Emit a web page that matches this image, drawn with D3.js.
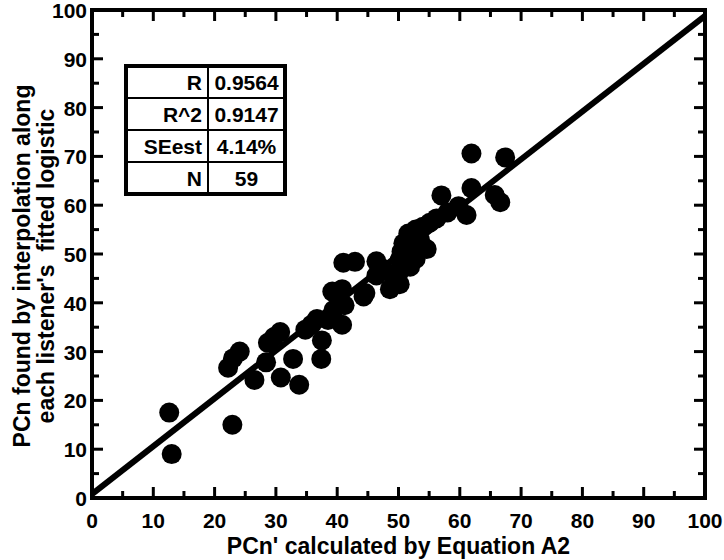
<!DOCTYPE html>
<html>
<head>
<meta charset="UTF-8">
<style>
  body{margin:0;background:#fff}
  svg{display:block}
  text{font-family:'Liberation Sans',Arial,sans-serif;font-weight:bold;fill:#000}
  .tick-label{font-family:'Liberation Sans Narrow','Arial Narrow','Liberation Sans',sans-serif;font-size:21px}
  .axis-title{font-size:23px}
  .tbl text{font-size:21px}
</style>
</head>
<body>
<div id="chart"></div>
<script src="https://d3js.org/d3.v7.min.js"></script>
<script>
// PCn' (Equation A2) vs PCn (interpolated), one pair per listener
const pcnCalc  = [12.6,13.0,22.9,22.2,23.0,24.1,26.5,28.4,28.7,30.7,30.8,32.8,33.8,34.8,36.7,37.5,37.4,40.8,
                  39.4,41.2,39.2,44.3,41.0,42.9,46.4,46.4,48.6,50.2,50.2,50.2,51.9,50.8,51.6,53.5,54.6,54.0,
                  56.2,57.0,59.8,61.1,61.9,61.9,67.4,65.7,66.6,
                  52.2,52.8,55.1,58.0,50.5,52.8,49.3,38.5,29.7,35.8,53.0,40.8,47.4,44.6];
const pcnFound = [17.5, 9.0,15.0,26.7,28.6,30.0,24.2,27.8,31.8,34.0,24.7,28.5,23.2,34.5,36.7,32.3,28.5,35.5,
                  38.5,39.5,42.3,41.3,48.2,48.4,48.5,45.6,42.8,43.8,46.5,48.8,47.4,52.2,54.2,52.9,51.0,55.6,
                  57.3,62.0,59.8,58.0,63.5,70.6,69.8,62.1,60.6,
                  52.5,55.0,56.4,58.5,50.5,49.0,44.5,36.5,33.0,35.5,51.5,42.8,47.0,42.0];

// least-squares line end points
const fitX = [0, 100];
const fitY = [0.8, 98.8];

// stats box
const statNames  = ["R", "R^2", "SEest", "N"];
const statValues = ["0.9564", "0.9147", "4.14%", "59"];

const xTicks = d3.range(0, 101, 10);
const yTicks = d3.range(0, 101, 10);
const minorTicks = d3.range(5, 100, 10);

const W = 724, H = 560;
const plot = {left: 92, right: 705, top: 10, bottom: 498};

const svg = d3.select("#chart").append("svg").attr("width", W).attr("height", H);

const x = d3.scaleLinear().domain([0, 100]).range([plot.left, plot.right]);
const y = d3.scaleLinear().domain([0, 100]).range([plot.bottom, plot.top]);

svg.append("clipPath").attr("id", "clip")
  .append("rect").attr("x", plot.left).attr("y", plot.top)
  .attr("width", plot.right - plot.left).attr("height", plot.bottom - plot.top);

/* ticks on all four sides, pointing in */
const majLen = 11, minLen = 7;
function tickLines(vals, len) {
  const g = svg.append("g").attr("stroke", "#000").attr("stroke-width", 3);
  vals.forEach(v => {
    g.append("line").attr("x1", x(v)).attr("x2", x(v)).attr("y1", plot.bottom).attr("y2", plot.bottom - len);
    g.append("line").attr("x1", x(v)).attr("x2", x(v)).attr("y1", plot.top).attr("y2", plot.top + len);
    g.append("line").attr("y1", y(v)).attr("y2", y(v)).attr("x1", plot.left).attr("x2", plot.left + len);
    g.append("line").attr("y1", y(v)).attr("y2", y(v)).attr("x1", plot.right).attr("x2", plot.right - len);
  });
}
tickLines(xTicks.slice(1, -1), majLen);
tickLines(minorTicks, minLen);

/* tick labels */
svg.append("g").selectAll("text").data(xTicks).join("text")
  .attr("class", "tick-label").attr("x", d => x(d)).attr("y", plot.bottom + 30)
  .attr("text-anchor", "middle").text(d => d);
svg.append("g").selectAll("text").data(yTicks).join("text")
  .attr("class", "tick-label").attr("x", plot.left - 5).attr("y", d => y(d) + 8)
  .attr("text-anchor", "end").text(d => d);

/* fit line */
svg.append("line").attr("clip-path", "url(#clip)")
  .attr("x1", x(fitX[0])).attr("y1", y(fitY[0]))
  .attr("x2", x(fitX[1])).attr("y2", y(fitY[1]))
  .attr("stroke", "#000").attr("stroke-width", 6);

/* points */
svg.append("g").selectAll("circle").data(pcnCalc.map((v, i) => [v, pcnFound[i]])).join("circle")
  .attr("cx", d => x(d[0])).attr("cy", d => y(d[1])).attr("r", 10).attr("fill", "#000");

/* frame */
svg.append("rect").attr("x", plot.left).attr("y", plot.top)
  .attr("width", plot.right - plot.left).attr("height", plot.bottom - plot.top)
  .attr("fill", "none").attr("stroke", "#000").attr("stroke-width", 4);

/* stats table */
const tb = {x: 126, y: 66, w: 159, rowH: 32, split: 208};
const tbl = svg.append("g").attr("class", "tbl");
tbl.append("rect").attr("x", tb.x).attr("y", tb.y).attr("width", tb.w).attr("height", tb.rowH * statNames.length)
  .attr("fill", "#fff").attr("stroke", "#000").attr("stroke-width", 4);
statNames.forEach((s, i) => {
  if (i > 0) tbl.append("line").attr("x1", tb.x).attr("x2", tb.x + tb.w)
    .attr("y1", tb.y + i * tb.rowH).attr("y2", tb.y + i * tb.rowH)
    .attr("stroke", "#000").attr("stroke-width", 2);
  tbl.append("text").attr("x", tb.split - 6).attr("y", tb.y + i * tb.rowH + tb.rowH / 2 + 8)
    .attr("text-anchor", "end").text(s);
  tbl.append("text").attr("x", (tb.split + tb.x + tb.w) / 2).attr("y", tb.y + i * tb.rowH + tb.rowH / 2 + 8)
    .attr("text-anchor", "middle").text(statValues[i]);
});
tbl.append("line").attr("x1", tb.split).attr("x2", tb.split)
  .attr("y1", tb.y).attr("y2", tb.y + tb.rowH * statNames.length)
  .attr("stroke", "#000").attr("stroke-width", 2);

/* axis titles */
svg.append("text").attr("class", "axis-title")
  .attr("x", (plot.left + plot.right) / 2).attr("y", 554).attr("text-anchor", "middle")
  .text("PCn' calculated by Equation A2");
const yt = svg.append("text").attr("class", "axis-title").attr("text-anchor", "middle")
  .attr("transform", `translate(0,266) rotate(-90)`);
yt.append("tspan").attr("x", 0).attr("y", 30).text("PCn found by interpolation along");
yt.append("tspan").attr("x", 0).attr("y", 54).style("white-space", "pre").text("each listener's  fitted logistic");
</script>
</body>
</html>
